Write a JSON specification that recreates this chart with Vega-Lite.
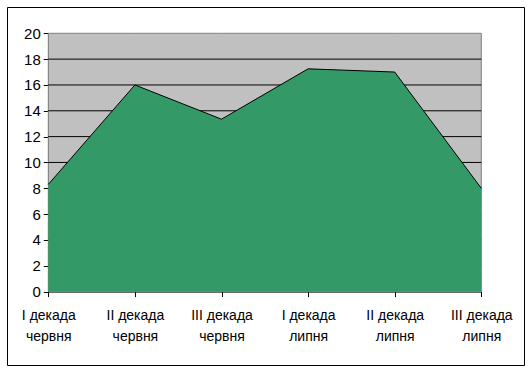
{
  "$schema": "https://vega.github.io/schema/vega-lite/v6.json",
  "width": 517,
  "height": 358,
  "autosize": {"type": "none"},
  "padding": {"left": 7, "top": 7, "right": 5, "bottom": 5},
  "background": "white",
  "config": {
    "view": {"stroke": "black", "strokeWidth": 1, "fill": "white"},
    "font": "Liberation Sans",
    "axis": {
      "grid": false,
      "zindex": 1,
      "domainColor": "black",
      "tickColor": "black",
      "tickSize": 5,
      "labelColor": "black",
      "labelFont": "Liberation Sans",
      "labelFontSize": 14,
      "labelOverlap": false,
      "labelSeparation": 0
    },
    "axisQuantitative": {"labelOverlap": false},
    "axisX": {"offset": -73.4, "labelPadding": 12, "labelLineHeight": 21, "labelAngle": 0, "labelColor": "black"},
    "axisY": {"offset": -41.3, "labelPadding": 3, "labelFontSize": 15, "labelColor": "black", "labelOverlap": false}
  },
  "datasets": {
    "decades": [
      {"period": "I декада|червня", "value": 8.3},
      {"period": "II декада|червня", "value": 16.0},
      {"period": "III декада|червня", "value": 13.35},
      {"period": "I декада|липня", "value": 17.25},
      {"period": "II декада|липня", "value": 17.0},
      {"period": "III декада|липня", "value": 8.0}
    ],
    "grid": [
      {"g": 2}, {"g": 4}, {"g": 6}, {"g": 8}, {"g": 10},
      {"g": 12}, {"g": 14}, {"g": 16}, {"g": 18}
    ]
  },
  "layer": [
    {
      "data": {"name": "decades"},
      "mark": {"type": "area", "fill": "#C0C0C0", "stroke": "#808080", "strokeWidth": 1},
      "encoding": {
        "x": {
          "field": "period",
          "type": "ordinal",
          "scale": {
            "type": "point",
            "domain": ["I декада|червня", "II декада|червня", "III декада|червня", "I декада|липня", "II декада|липня", "III декада|липня"],
            "range": [41.3, 474.3],
            "padding": 0
          },
          "axis": {"title": null, "labelExpr": "split(datum.label, '|')"}
        },
        "y": {
          "datum": 20,
          "type": "quantitative",
          "scale": {"domain": [0, 20], "range": [284.6, 26.3], "nice": false, "zero": true},
          "axis": {"title": null, "values": [0, 2, 4, 6, 8, 10, 12, 14, 16, 18, 20], "labelOverlap": false}
        },
        "y2": {"datum": 0}
      }
    },
    {
      "data": {"name": "grid"},
      "mark": {"type": "rule", "color": "black", "strokeWidth": 1},
      "encoding": {
        "x": {"datum": "I декада|червня", "type": "ordinal", "axis": {"title": null, "labelExpr": "split(datum.label, '|')"}},
        "x2": {"datum": "III декада|липня"},
        "y": {"field": "g", "type": "quantitative", "axis": {"title": null, "values": [0, 2, 4, 6, 8, 10, 12, 14, 16, 18, 20], "labelOverlap": false}}
      }
    },
    {
      "data": {"name": "decades"},
      "mark": {"type": "area", "fill": "#339966", "opacity": 1},
      "encoding": {
        "x": {"field": "period", "type": "ordinal", "axis": {"title": null, "labelExpr": "split(datum.label, '|')"}},
        "y": {"field": "value", "type": "quantitative", "axis": {"title": null, "values": [0, 2, 4, 6, 8, 10, 12, 14, 16, 18, 20], "labelOverlap": false}}
      }
    },
    {
      "data": {"name": "decades"},
      "mark": {"type": "line", "color": "black", "strokeWidth": 1},
      "encoding": {
        "x": {"field": "period", "type": "ordinal", "axis": {"title": null, "labelExpr": "split(datum.label, '|')"}},
        "y": {"field": "value", "type": "quantitative", "axis": {"title": null, "values": [0, 2, 4, 6, 8, 10, 12, 14, 16, 18, 20], "labelOverlap": false}}
      }
    }
  ]
}
